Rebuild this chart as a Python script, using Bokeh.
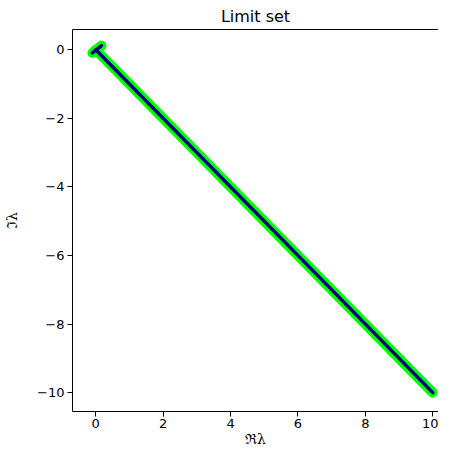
from bokeh.plotting import figure
from bokeh.models import LinearAxis, Range1d, FixedTicker
from bokeh.embed import file_html
from bokeh.resources import INLINE

# Data: limit set curves (real part, imaginary part)
main_re = [0.0, 10.0]
main_im = [0.0, -10.0]
small_re = [-0.10, 0.17]
small_im = [-0.09, 0.12]

x_ticks = [0, 2, 4, 6, 8, 10]
y_ticks = [0, -2, -4, -6, -8, -10]
y_tick_labels = {t: (("\u2212" + str(abs(t))) if t < 0 else str(t)) for t in y_ticks}

p = figure(width=438, height=449, output_backend="svg", toolbar_location=None,
           x_range=Range1d(-0.69, 10.17), y_range=Range1d(-10.55, 0.59),
           title="Limit set", x_axis_label="\u211c\u03bb", y_axis_label="\u2111\u03bb",
           min_border_left=72, min_border_right=0, min_border_top=0, min_border_bottom=0)

p.grid.visible = False
p.outline_line_color = None
p.background_fill_color = "white"
p.border_fill_color = "white"

p.title.align = "center"
p.title.text_font = "DejaVu Sans"
p.title.text_font_size = "16px"
p.title.text_font_style = "normal"
p.title.text_color = "black"
p.title.standoff = 8

bottom_axis = p.below[0]
left_axis = p.left[0]

top_axis = LinearAxis(ticker=FixedTicker(ticks=[]), major_tick_line_color=None,
                      minor_tick_line_color=None, major_label_text_color=None,
                      axis_line_color="black", axis_line_width=1)
p.add_layout(top_axis, "above")

for ax in (bottom_axis, left_axis):
    ax.axis_line_color = "black"
    ax.major_tick_line_color = "black"
    ax.major_tick_in = 0
    ax.major_tick_out = 5
    ax.minor_tick_line_color = None
    ax.major_label_text_font = "DejaVu Sans"
    ax.major_label_text_font_size = "13px"
    ax.major_label_text_color = "black"
    ax.axis_label_text_font = "DejaVu Serif"
    ax.axis_label_text_font_size = "14px"
    ax.axis_label_text_font_style = "normal"
    ax.axis_label_text_color = "black"
    ax.axis_label_standoff = 0
    ax.major_label_standoff = 3

left_axis.axis_label_standoff = 14
bottom_axis.major_label_standoff = 2

bottom_axis.ticker = FixedTicker(ticks=x_ticks)
left_axis.ticker = FixedTicker(ticks=y_ticks)
left_axis.major_label_overrides = y_tick_labels

xs = [main_re, small_re]
ys = [main_im, small_im]
p.multi_line(xs, ys, line_color="#00ff00", line_width=10, line_cap="round", line_join="round")
p.multi_line(xs, ys, line_color="#000080", line_width=3.5, line_cap="round", line_join="round")

open("out.html", "w").write(file_html(p, INLINE))
